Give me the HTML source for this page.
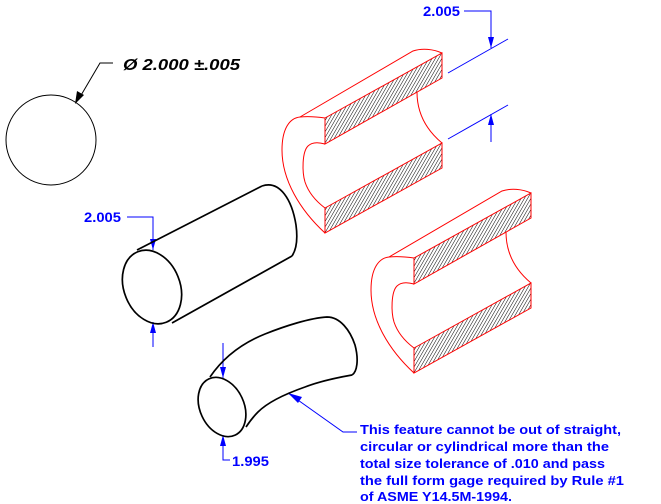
<!DOCTYPE html>
<html><head><meta charset="utf-8"><style>
html,body{margin:0;padding:0;background:#fff}
svg{display:block}
text{font-family:"Liberation Sans",Arial,sans-serif;font-weight:bold}
</style></head><body>
<svg width="661" height="504" viewBox="0 0 661 504" xmlns="http://www.w3.org/2000/svg">
<defs>
<pattern id="h" width="2.8" height="2.8" patternUnits="userSpaceOnUse" patternTransform="rotate(30)">
<line x1="0" y1="0" x2="0" y2="2.8" stroke="#000" stroke-width="1"/>
</pattern>
<g id="half">
<polygon points="325,118 442,53 442,78 325,144" fill="url(#h)" stroke="red" stroke-width="1"/>
<polygon points="325,208 442,143 442,168 325,233" fill="url(#h)" stroke="red" stroke-width="1"/>
<path d="M325,233 C300,210 282,180 282,150 C282,128 290,118 300,117 C310,116 318,117 325,118" fill="none" stroke="red" stroke-width="1"/>
<path d="M325,144 C318,142 312,142 308,146 C302,152 302,172 305,182 C309,194 317,202 325,208" fill="none" stroke="red" stroke-width="1"/>
<path d="M300,117 L413,51 C422,48 433,49 442,53" fill="none" stroke="red" stroke-width="1"/>
<path d="M417,92 C417,110 424,128 442,143" fill="none" stroke="red" stroke-width="1"/>
</g>
</defs>
<circle cx="51" cy="140" r="45" fill="none" stroke="#000" stroke-width="1"/>
<polyline points="113,63 100,63 80,97" fill="none" stroke="#000" stroke-width="1"/>
<polygon points="75,104 77,91 84,95" fill="#000"/>
<text x="123" y="70" font-size="16" font-style="italic" textLength="117" lengthAdjust="spacingAndGlyphs">Ø 2.000 ±.005</text>

<use href="#half"/>
<use href="#half" transform="translate(89,140)"/>

<g stroke="blue" stroke-width="1" fill="none">
<polyline points="464,11 491,11 491,48"/>
<line x1="448" y1="73" x2="508" y2="39"/>
<line x1="448" y1="139" x2="508" y2="105"/>
<line x1="491" y1="114" x2="491" y2="142"/>
<polyline points="127,217 153,217 153,250"/>
<line x1="153" y1="322" x2="153" y2="347"/>
<line x1="223" y1="343" x2="223" y2="378"/>
<polyline points="223,435 223,460 230,460"/>
<polyline points="288,393 343,432 357,432"/>
</g>
<g fill="blue">
<polygon points="491,48 488,37 494,37"/>
<polygon points="491,114 488,125 494,125"/>
<polygon points="153,250 150,239 156,239"/>
<polygon points="153,322 150,333 156,333"/>
<polygon points="223,378 220,367 226,367"/>
<polygon points="223,435 220,446 226,446"/>
<polygon points="288,393 302,397 298,403"/>
</g>
<text x="423" y="16" font-size="14" fill="blue" textLength="37" lengthAdjust="spacingAndGlyphs">2.005</text>
<text x="84" y="222" font-size="14" fill="blue" textLength="37" lengthAdjust="spacingAndGlyphs">2.005</text>
<text x="232" y="466" font-size="14" fill="blue" textLength="37" lengthAdjust="spacingAndGlyphs">1.995</text>
<g font-size="13" fill="blue">
<text x="360" y="434" textLength="261" lengthAdjust="spacingAndGlyphs">This feature cannot be out of straight,</text>
<text x="360" y="451" textLength="249" lengthAdjust="spacingAndGlyphs">circular or cylindrical more than the</text>
<text x="360" y="468" textLength="245" lengthAdjust="spacingAndGlyphs">total size tolerance of .010 and pass</text>
<text x="360" y="485" textLength="264" lengthAdjust="spacingAndGlyphs">the full form gage required by Rule #1</text>
<text x="360" y="501" textLength="152" lengthAdjust="spacingAndGlyphs">of ASME Y14.5M-1994.</text>
</g>

<g stroke="#000" stroke-width="1.7" fill="none">
<ellipse cx="152" cy="287" rx="28" ry="38" transform="rotate(-22 152 287)"/>
<line x1="137" y1="250" x2="262" y2="186"/>
<line x1="172" y1="323" x2="292" y2="256"/>
<path d="M262,186 C280,180 292,200 296,225 C298,240 296,250 292,256"/>
<ellipse cx="222" cy="407" rx="22" ry="31" transform="rotate(-25 222 407)"/>
<path d="M210,377 C225,355 245,342 265,334 C285,326 310,318 327,317 C340,317 350,330 355,345 C359,360 357,372 352,375"/>
<path d="M352,375 C335,378 318,382 305,387 C285,394 268,402 258,412 C252,418 248,424 246,427"/>
</g>
</svg>
</body></html>
